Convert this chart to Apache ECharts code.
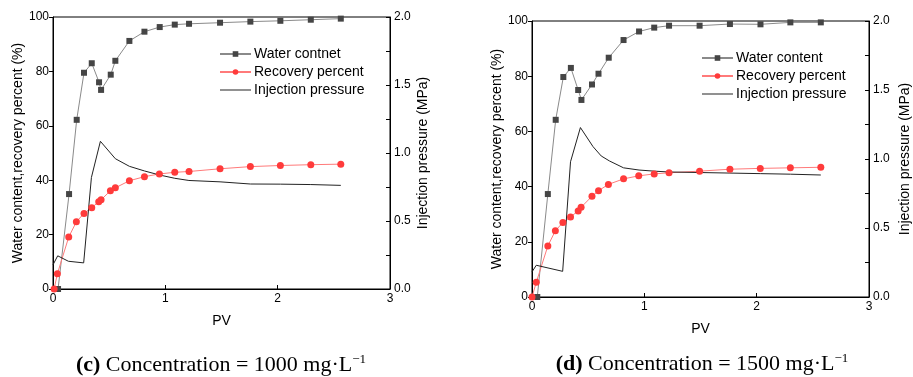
<!DOCTYPE html>
<html>
<head>
<meta charset="utf-8">
<title>Water content / recovery percent / injection pressure</title>
<script src="https://cdn.jsdelivr.net/npm/echarts@6/dist/echarts.min.js"></script>
<style>
    html, body { margin: 0; padding: 0; background: #fff; }
    #myEcharts { width: 913px; height: 377px; }
</style>
</head>
<body>
<div id="myEcharts"></div>
<script>
// (c) 1000 mg/L
const waterPvC = [0.045, 0.143, 0.211, 0.276, 0.345, 0.41, 0.428, 0.514, 0.555, 0.68, 0.814, 0.95, 1.084, 1.211, 1.487, 1.757, 2.024, 2.295, 2.562];
const waterC = [0, 34.9, 62.2, 79.5, 83, 76, 73.2, 78.8, 83.9, 91.2, 94.6, 96.3, 97.2, 97.5, 97.9, 98.3, 98.6, 99.0, 99.4];
const recPvC = [0.01, 0.039, 0.14, 0.208, 0.276, 0.345, 0.407, 0.428, 0.511, 0.555, 0.68, 0.814, 0.947, 1.084, 1.211, 1.487, 1.757, 2.024, 2.295, 2.562];
const recC = [0, 5.6, 19.1, 24.7, 27.8, 29.9, 32.1, 32.8, 36.1, 37.2, 39.8, 41.3, 42.3, 42.9, 43.2, 44.2, 45.0, 45.4, 45.7, 45.9];
const presPvC = [0, 0.042, 0.137, 0.273, 0.342, 0.422, 0.555, 0.68, 0.814, 0.95, 1.084, 1.21, 1.487, 1.757, 2.024, 2.295, 2.562];
const presC = [0.178, 0.244, 0.204, 0.192, 0.82, 1.086, 0.958, 0.902, 0.868, 0.838, 0.814, 0.798, 0.788, 0.772, 0.771, 0.768, 0.762];

// (d) 1500 mg/L
const waterPvD = [0.047, 0.141, 0.211, 0.279, 0.346, 0.411, 0.44, 0.534, 0.592, 0.683, 0.815, 0.953, 1.088, 1.22, 1.492, 1.762, 2.034, 2.30, 2.571];
const waterD = [0, 37.3, 64.2, 79.7, 83, 75, 71.4, 77, 80.9, 86.7, 93.1, 96.2, 97.6, 98.3, 98.3, 98.9, 98.8, 99.5, 99.5];
const recPvD = [0, 0.038, 0.141, 0.208, 0.275, 0.343, 0.411, 0.437, 0.534, 0.592, 0.68, 0.815, 0.95, 1.088, 1.22, 1.492, 1.762, 2.032, 2.30, 2.571];
const recD = [0, 5.3, 18.5, 24, 27, 29, 31.2, 32.5, 36.5, 38.5, 40.8, 42.8, 43.9, 44.6, 45.0, 45.6, 46.3, 46.6, 46.8, 47.0];
const presPvD = [0, 0.038, 0.273, 0.343, 0.431, 0.543, 0.616, 0.689, 0.815, 0.953, 1.088, 1.22, 1.492, 1.762, 2.032, 2.30, 2.571];
const presD = [0.182, 0.23, 0.186, 0.98, 1.228, 1.09, 1.022, 0.986, 0.936, 0.92, 0.912, 0.906, 0.902, 0.898, 0.894, 0.89, 0.884];

const pvTicks = [0, 1, 2, 3];
const captions = ['{b|(c)} Concentration = 1000 mg·L{s|−1}', '{b|(d)} Concentration = 1500 mg·L{s|−1}'];

const font = 'Liberation Sans';
const pairs = (xs, ys) => xs.map((x, i) => [x, ys[i]]);

function xAxisFor(gridIndex) {
    return {
        type: 'value', gridIndex: gridIndex, min: 0, max: 3, interval: 1,
        name: 'PV', nameLocation: 'middle', nameGap: 25,
        nameTextStyle: { color: '#000', fontSize: 14, fontFamily: font },
        axisLine: { lineStyle: { color: '#000', width: 1 } },
        axisTick: { inside: true, length: 4, lineStyle: { color: '#000' } },
        axisLabel: { color: '#000', fontSize: 12, fontFamily: font, margin: 4,
            formatter: v => pvTicks.includes(v) ? String(v) : '' },
        splitLine: { show: false }
    };
}

function leftAxisFor(gridIndex) {
    return {
        type: 'value', gridIndex: gridIndex, min: 0, max: 100, interval: 20, position: 'left',
        name: 'Water content,recovery percent (%)', nameLocation: 'middle', nameGap: 28, nameRotate: 90,
        nameTextStyle: { color: '#000', fontSize: 14, fontFamily: font },
        axisLine: { show: true, lineStyle: { color: '#000', width: 1 } },
        axisTick: { show: true, length: 4, lineStyle: { color: '#000' } },
        axisLabel: { color: '#000', fontSize: 12, fontFamily: font, margin: 4 },
        splitLine: { show: false }
    };
}

function rightAxisFor(gridIndex, gap) {
    return {
        type: 'value', gridIndex: gridIndex, min: 0, max: 2, interval: 0.5, position: 'right',
        name: 'Injection pressure (MPa)', nameLocation: 'middle', nameGap: gap, nameRotate: 90,
        nameTextStyle: { color: '#000', fontSize: 14, fontFamily: font },
        axisLine: { show: true, lineStyle: { color: '#000', width: 1 } },
        axisTick: { show: true, inside: true, length: 4, lineStyle: { color: '#000' } },
        minorTick: { show: true, splitNumber: 2, length: 4, lineStyle: { color: '#000' } },
        axisLabel: { color: '#000', fontSize: 12, fontFamily: font, margin: 4,
            formatter: v => v.toFixed(1) },
        splitLine: { show: false }
    };
}

function seriesFor(idx, waterName, wPv, w, rPv, r, pPv, p) {
    return [
        {
            name: waterName, type: 'line', xAxisIndex: idx, yAxisIndex: idx * 2,
            data: pairs(wPv, w), symbol: 'rect', symbolSize: 6,
            itemStyle: { color: '#454545' },
            lineStyle: { color: '#8a8a8a', width: 1 }
        },
        {
            name: 'Recovery percent', type: 'line', xAxisIndex: idx, yAxisIndex: idx * 2,
            data: pairs(rPv, r), symbol: 'circle', symbolSize: 7,
            itemStyle: { color: '#ff3b3b' },
            lineStyle: { color: '#ff7a7a', width: 1 }
        },
        {
            name: 'Injection pressure', type: 'line', xAxisIndex: idx, yAxisIndex: idx * 2 + 1,
            data: pairs(pPv, p), symbol: 'none',
            itemStyle: { color: '#222' },
            lineStyle: { color: '#222', width: 1 }
        }
    ];
}

function legendFor(left, top, waterName) {
    return {
        orient: 'vertical', left: left, top: top, padding: 0,
        itemWidth: 31, itemHeight: 7, itemGap: 4,
        data: [
            waterName,
            'Recovery percent',
            // line only, no marker
            { name: 'Injection pressure', icon: 'path://M0,0H31V1H0Z' }
        ],
        textStyle: { color: '#000', fontSize: 14, fontFamily: font, padding: [0, 0, 0, -2] },
        selectedMode: false
    };
}

const captionStyle = {
    color: '#000', fontSize: 22, fontFamily: 'Liberation Serif', fontWeight: 'normal',
    rich: {
        b: { fontSize: 22, fontFamily: 'Liberation Serif', fontWeight: 'bold', color: '#000' },
        s: { fontSize: 13, fontFamily: 'Liberation Serif', color: '#000', padding: [0, 0, 11, 0] }
    }
};

const option = {
    animation: false,
    backgroundColor: '#fff',
    title: [
        { text: captions[0], left: 216, top: 348, textAlign: 'center', textStyle: captionStyle },
        { text: captions[1], left: 697, top: 347, textAlign: 'center', textStyle: captionStyle }
    ],
    legend: [
        legendFor(219, 47, 'Water contnet'),
        legendFor(701, 51, 'Water content')
    ],
    grid: [
        { left: 53, right: 523, top: 17, bottom: 88, show: true, borderColor: '#000', borderWidth: 1 },
        { left: 532, right: 39, top: 21, bottom: 80, show: true, borderColor: '#000', borderWidth: 1 }
    ],
    xAxis: [xAxisFor(0), xAxisFor(1)],
    yAxis: [leftAxisFor(0), rightAxisFor(0, 26), leftAxisFor(1), rightAxisFor(1, 29)],
    series: [
        ...seriesFor(0, 'Water contnet', waterPvC, waterC, recPvC, recC, presPvC, presC),
        ...seriesFor(1, 'Water content', waterPvD, waterD, recPvD, recD, presPvD, presD)
    ]
};

let chart = echarts.init(document.getElementById('myEcharts'));
chart.setOption(option);
</script>
</body>
</html>
